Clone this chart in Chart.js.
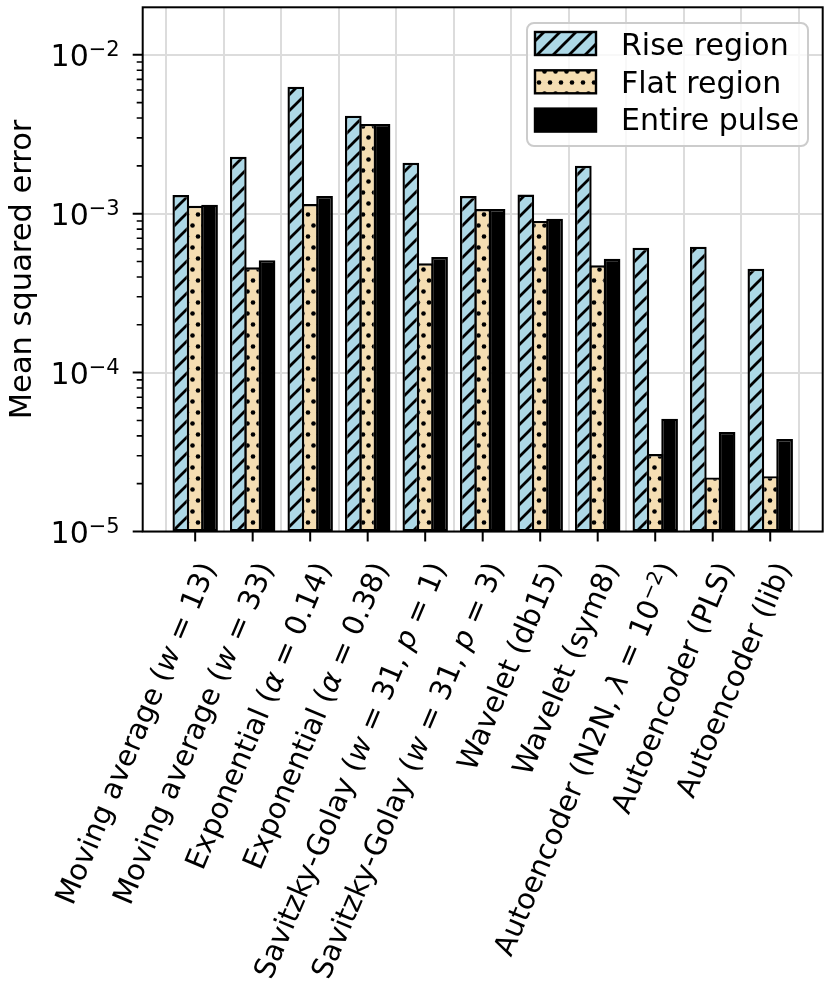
<!DOCTYPE html>
<html>
<head>
<meta charset="utf-8">
<script src="https://cdn.jsdelivr.net/npm/chart.js@4.4.1/dist/chart.umd.min.js"></script>
<style>
  body { margin: 0; background: #fff; }
  canvas { display: block; }
</style>
</head>
<body>
<canvas id="c" width="830" height="997"></canvas>
<script>
// categories, *x* = italic, ^x^ = superscript
var categories = [
  'Moving average (*w* = 13)',
  'Moving average (*w* = 33)',
  'Exponential (*α* = 0.14)',
  'Exponential (*α* = 0.38)',
  'Savitzky-Golay (*w* = 31, *p* = 1)',
  'Savitzky-Golay (*w* = 31, *p* = 3)',
  'Wavelet (db15)',
  'Wavelet (sym8)',
  'Autoencoder (N2N, *λ* = 10^−2^)',
  'Autoencoder (PLS)',
  'Autoencoder (lib)'
];

var riseRegion  = [1.31e-3, 2.28e-3, 6.3e-3, 4.14e-3, 2.09e-3, 1.29e-3, 1.32e-3, 2.0e-3, 6.1e-4, 6.2e-4, 4.5e-4];
var flatRegion  = [1.12e-3, 4.6e-4, 1.15e-3, 3.67e-3, 4.87e-4, 1.07e-3, 9.0e-4, 4.73e-4, 3.07e-5, 2.19e-5, 2.23e-5];
var entirePulse = [1.14e-3, 5.1e-4, 1.29e-3, 3.67e-3, 5.34e-4, 1.07e-3, 9.3e-4, 5.2e-4, 5.13e-5, 4.23e-5, 3.82e-5];

var seriesNames = ['Rise region', 'Flat region', 'Entire pulse'];

var yTickValues = [1e-5, 1e-4, 1e-3, 1e-2];
var yTickLabels = ['10^−5^', '10^−4^', '10^−3^', '10^−2^'];
var yTitle = 'Mean squared error';

var FONT = '"DejaVu Sans", sans-serif';
var FS = 30;

//---------------- patterns ----------------
function hatchPattern() {
  var s = 16;
  var c = document.createElement('canvas');
  c.width = s; c.height = s;
  var g = c.getContext('2d');
  g.fillStyle = '#add8e6';
  g.fillRect(0, 0, s, s);
  g.strokeStyle = '#000';
  g.lineWidth = 2.8;
  g.beginPath();
  g.moveTo(-4, s + 4); g.lineTo(s + 4, -4);
  g.moveTo(-4, 4); g.lineTo(4, -4);
  g.moveTo(s - 4, s + 4); g.lineTo(s + 4, s - 4);
  g.stroke();
  return g.createPattern(c, 'repeat');
}

function dotPattern() {
  var w = 11, h = 22;
  var c = document.createElement('canvas');
  c.width = w; c.height = h;
  var g = c.getContext('2d');
  g.fillStyle = '#f5deb3';
  g.fillRect(0, 0, w, h);
  g.fillStyle = '#000';
  var pts = [[5.5, 5.5], [0, 16.5], [11, 16.5]];
  pts.forEach(function (p) {
    g.beginPath();
    g.arc(p[0], p[1], 2.3, 0, Math.PI * 2);
    g.fill();
  });
  return g.createPattern(c, 'repeat');
}

var ctx0 = document.getElementById('c').getContext('2d');
var fills = [hatchPattern(), dotPattern(), '#000'];

//---------------- rich text ----------------
function segs(str, fs) {
  return str.split(/(\*[^*]+\*|\^[^^]+\^)/).filter(function (s) { return s; }).map(function (s) {
    if (s[0] === '*') return { t: s.slice(1, -1), font: 'italic ' + fs + 'px ' + FONT, dy: 0 };
    if (s[0] === '^') return { t: s.slice(1, -1), font: Math.round(fs * 0.7) + 'px ' + FONT, dy: -0.32 * fs };
    return { t: s, font: fs + 'px ' + FONT, dy: 0 };
  });
}

function drawRich(ctx, str, x, y, align, fs) {
  var parts = segs(str, fs);
  var total = 0;
  parts.forEach(function (p) { ctx.font = p.font; p.w = ctx.measureText(p.t).width; total += p.w; });
  var cx = align === 'right' ? x - total : (align === 'center' ? x - total / 2 : x);
  ctx.textAlign = 'left';
  ctx.textBaseline = 'alphabetic';
  parts.forEach(function (p) {
    ctx.font = p.font;
    ctx.fillText(p.t, cx, y + p.dy);
    cx += p.w;
  });
}

//---------------- decorations ----------------
var decor = {
  id: 'decor',
  afterDatasetsDraw: function (chart) {
    var ctx = chart.ctx;
    var a = chart.chartArea;
    var xs = chart.scales.x, ys = chart.scales.y;
    ctx.save();
    ctx.fillStyle = '#000';
    ctx.strokeStyle = '#000';

    // spines
    ctx.lineWidth = 2;
    ctx.strokeRect(a.left, a.top, a.right - a.left, a.bottom - a.top);

    // x ticks
    ctx.lineWidth = 2;
    ctx.beginPath();
    categories.forEach(function (c, i) {
      var px = xs.getPixelForValue(i);
      ctx.moveTo(px, a.bottom); ctx.lineTo(px, a.bottom + 10);
    });
    // y major ticks
    yTickValues.forEach(function (v) {
      var py = ys.getPixelForValue(v);
      ctx.moveTo(a.left, py); ctx.lineTo(a.left - 10, py);
    });
    ctx.stroke();
    // y minor ticks
    ctx.lineWidth = 1.6;
    ctx.beginPath();
    for (var k = -5; k <= -2; k++) {
      for (var m = 2; m <= 9; m++) {
        var v = m * Math.pow(10, k);
        if (v >= ys.max) continue;
        var py = ys.getPixelForValue(v);
        ctx.moveTo(a.left, py); ctx.lineTo(a.left - 6, py);
      }
    }
    ctx.stroke();

    // y tick labels
    yTickValues.forEach(function (v, i) {
      var py = ys.getPixelForValue(v);
      drawRich(ctx, yTickLabels[i], a.left - 23, py + 11, 'right', FS);
    });

    // x tick labels (rotated)
    categories.forEach(function (c, i) {
      var px = xs.getPixelForValue(i);
      ctx.save();
      ctx.translate(px + 2, a.bottom + 28);
      ctx.rotate(-67 * Math.PI / 180);
      drawRich(ctx, c, 0, 21, 'right', 29);
      ctx.restore();
    });

    // y title
    ctx.save();
    ctx.translate(31, (a.top + a.bottom) / 2);
    ctx.rotate(-Math.PI / 2);
    ctx.font = '30.5px ' + FONT;
    ctx.textAlign = 'center';
    ctx.textBaseline = 'alphabetic';
    ctx.fillText(yTitle, 0, 0);
    ctx.restore();

    // legend
    var lx = 527, ly = 23, lw = 281, lh = 123, r = 7;
    ctx.beginPath();
    ctx.moveTo(lx + r, ly);
    ctx.arcTo(lx + lw, ly, lx + lw, ly + lh, r);
    ctx.arcTo(lx + lw, ly + lh, lx, ly + lh, r);
    ctx.arcTo(lx, ly + lh, lx, ly, r);
    ctx.arcTo(lx, ly, lx + lw, ly, r);
    ctx.closePath();
    ctx.fillStyle = 'rgba(255,255,255,0.8)';
    ctx.fill();
    ctx.strokeStyle = '#cccccc';
    ctx.lineWidth = 2;
    ctx.stroke();

    seriesNames.forEach(function (name, i) {
      var by = 32 + i * 38.3;
      ctx.fillStyle = fills[i];
      ctx.fillRect(535, by, 61, 23);
      ctx.strokeStyle = '#000';
      ctx.lineWidth = 2.4;
      ctx.strokeRect(535, by, 61, 23);
      ctx.fillStyle = '#000';
      ctx.font = FS + 'px ' + FONT;
      ctx.textAlign = 'left';
      ctx.textBaseline = 'alphabetic';
      ctx.fillText(name, 621, 55 + i * 37.6);
    });

    ctx.restore();
  }
};

function toPoints(arr) {
  return arr.map(function (v, i) { return { x: i, y: v }; });
}

var seriesData = [riseRegion, flatRegion, entirePulse];

new Chart(ctx0, {
  type: 'bar',
  data: {
    datasets: seriesData.map(function (d, i) {
      return {
        label: seriesNames[i],
        data: toPoints(d),
        backgroundColor: fills[i],
        borderColor: '#000',
        borderWidth: 2.4,
        borderSkipped: false,
        categoryPercentage: 0.75,
        barPercentage: 1.16
      };
    })
  },
  options: {
    responsive: false,
    devicePixelRatio: 1,
    animation: false,
    layout: { padding: { left: 142.7, right: 7.3, top: 7.3, bottom: 465.5 } },
    plugins: { legend: { display: false }, tooltip: { enabled: false } },
    scales: {
      x: {
        type: 'linear',
        min: -0.9125,
        max: 10.9125,
        offset: false,
        afterBuildTicks: function (axis) {
          axis.ticks = categories.map(function (c, i) { return { value: i }; });
        },
        ticks: { display: false },
        grid: { color: '#dcdcdc', lineWidth: 2, drawTicks: false },
        border: { display: false }
      },
      y: {
        type: 'logarithmic',
        min: 1e-5,
        max: 0.0199,
        afterBuildTicks: function (axis) {
          axis.ticks = yTickValues.map(function (v) { return { value: v, major: true }; });
        },
        ticks: { display: false },
        grid: { color: '#dcdcdc', lineWidth: 2, drawTicks: false },
        border: { display: false }
      }
    }
  },
  plugins: [decor]
});
</script>
</body>
</html>
